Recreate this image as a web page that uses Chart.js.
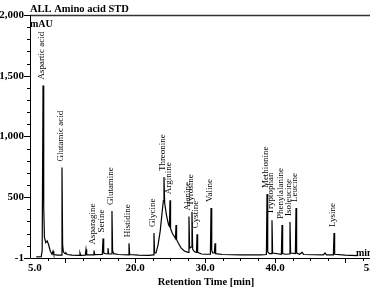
<!DOCTYPE html>
<html>
<head>
<meta charset="utf-8">
<script src="https://cdn.jsdelivr.net/npm/chart.js@4.4.0/dist/chart.umd.min.js"></script>
<style>
  html, body { margin: 0; padding: 0; background: #fff; }
</style>
</head>
<body>
<canvas id="chart" width="370" height="292"></canvas>
<script>
// Chromatogram trace, retention time [min] vs signal [mAU]
const retentionTimes = [
  5.9, 6.6, 6.74, 6.86, 6.96, 7.06, 7.25, 7.45, 7.65, 7.9, 8.15, 8.29, 8.4, 8.9,
  9.46, 9.57, 9.66, 9.76, 10.0, 10.14, 10.3, 11.0, 12.05, 12.14, 12.24, 12.9, 13.0, 13.1,
  14.04, 14.14, 14.24, 15.33, 15.43, 15.53, 15.9, 16.05, 16.14, 16.24, 16.62, 16.71, 16.8, 16.95,
  17.6, 19.05, 19.14, 19.24, 20.5, 22.0, 22.62, 22.71, 22.8, 23.0, 23.3, 23.6, 23.9, 24.05,
  24.14, 24.24, 24.5, 24.8, 24.92, 25.0, 25.08, 25.35, 25.78, 25.86, 25.94, 26.2, 26.6, 27.1,
  27.62, 27.71, 27.8, 28.05, 28.14, 28.24, 28.5, 28.78, 28.86, 28.95, 29.5, 30.0, 30.77, 30.86,
  30.96, 31.1, 31.34, 31.43, 31.52, 32.5, 35.0, 38.0, 38.77, 38.86, 38.96, 39.2, 39.48, 39.57,
  39.66, 40.91, 41.0, 41.09, 41.5, 42.05, 42.14, 42.23, 42.91, 43.0, 43.09, 43.5, 43.86, 44.1,
  46.9, 47.14, 47.35, 48.34, 48.43, 48.52, 50.0, 51.8
];
const signal = [
  8, 10, 60, 1420, 420, 170, 125, 140, 110, 55, 30, 55, 28, 22,
  22, 745, 110, 50, 35, 40, 28, 22, 20, 40, 20, 22, 70, 24,
  24, 60, 26, 28, 160, 40, 32, 34, 80, 32, 32, 385, 60, 35,
  28, 24, 120, 28, 22, 20, 24, 205, 40, 40, 110, 220, 390, 470,
  665, 450, 350, 270, 260, 475, 240, 200, 160, 270, 150, 120, 80, 55,
  45, 340, 80, 90, 380, 70, 50, 45, 195, 45, 32, 30, 30, 410,
  60, 40, 40, 120, 35, 28, 25, 25, 28, 525, 50, 35, 35, 310,
  40, 30, 270, 35, 30, 32, 295, 40, 35, 410, 40, 30, 45, 28,
  25, 40, 25, 25, 205, 30, 22, 18
];

// Named peaks (label text and apex retention time)
const peakNames = [
  "Aspartic acid", "Glutamic acid", "Asparagine", "Serine", "Glutamine", "Histidine",
  "Glycine", "Threonine", "Arginine", "Alanine", "Tyrosine", "Cystine", "Valine",
  "Methionine", "Tryptophan", "Phenylalanine", "Isoleucine", "Leucine", "Lysine"
];
const peakTimes = [
  6.86, 9.57, 14.14, 15.43, 16.71, 19.14,
  22.71, 24.14, 25.0, 27.71, 28.14, 28.86, 30.86,
  38.86, 39.57, 41.0, 42.14, 43.0, 48.43
];

// Axis tick labels
const yTickValues = [-1, 500, 1000, 1500, 2000];
const xTickLabels = [5, 20, 30, 40, 55];

const SERIF = "'Liberation Serif', 'Times New Roman', serif";

// draws the Chromeleon style frame, ticks, texts and peak names
const chromeleonFrame = {
  id: 'chromeleonFrame',
  afterDatasetsDraw(chart) {
    const { ctx, chartArea: a, scales: { x, y } } = chart;
    ctx.save();
    ctx.strokeStyle = '#000';
    ctx.fillStyle = '#000';

    // top border
    ctx.lineWidth = 1.5;
    ctx.strokeStyle = '#333';
    ctx.beginPath();
    ctx.moveTo(a.left, a.top + 0.5);
    ctx.lineTo(a.right, a.top + 0.5);
    ctx.stroke();

    // axes
    ctx.strokeStyle = '#000';
    ctx.lineWidth = 1;
    ctx.beginPath();
    ctx.moveTo(a.left + 0.5, a.top);
    ctx.lineTo(a.left + 0.5, a.bottom + 0.5);
    ctx.lineTo(a.right, a.bottom + 0.5);
    ctx.stroke();

    // y ticks: every 100 mAU, long ones at labels
    ctx.beginPath();
    for (let v = 100; v < 2000; v += 100) {
      if (v % 500 === 0) continue;
      const py = Math.round(y.getPixelForValue(v)) + 0.5;
      ctx.moveTo(a.left - 3, py);
      ctx.lineTo(a.left, py);
    }
    yTickValues.forEach(v => {
      const py = Math.round(y.getPixelForValue(v)) + 0.5;
      ctx.moveTo(a.left - 6, py);
      ctx.lineTo(a.left, py);
    });
    // x ticks: every 2.5 min
    for (let t = 7.5; t <= x.max; t += 2.5) {
      const px = Math.round(x.getPixelForValue(t)) + 0.5;
      const len = t % 10 === 0 ? 5 : 3;
      ctx.moveTo(px, a.bottom);
      ctx.lineTo(px, a.bottom + len);
    }
    ctx.stroke();

    // x tick labels
    ctx.font = `bold 11px ${SERIF}`;
    ctx.textBaseline = 'middle';
    xTickLabels.forEach((v, i) => {
      let px = x.getPixelForValue(v);
      if (i === 0) { ctx.textAlign = 'left'; px -= 2; }
      else if (i === xTickLabels.length - 1) { ctx.textAlign = 'right'; px += 3; }
      else ctx.textAlign = 'center';
      ctx.fillText(v.toFixed(1), px, a.bottom + 10);
    });

    // axis titles and units
    ctx.textAlign = 'center';
    ctx.font = `bold 10.5px ${SERIF}`;
    ctx.fillText('Retention Time [min]', 206, a.bottom + 24);
    ctx.textAlign = 'left';
    ctx.font = `bold 10px ${SERIF}`;
    ctx.fillText('mAU', a.left, 24);
    ctx.fillText('min', 356, a.bottom - 5);
    ctx.textBaseline = 'alphabetic';
    ctx.font = `bold 10.5px ${SERIF}`;
    ctx.fillText('ALL Amino acid STD', a.left, a.top - 3);

    // peak names, rotated, above each apex
    ctx.font = `9px ${SERIF}`;
    ctx.textAlign = 'left';
    ctx.textBaseline = 'middle';
    peakNames.forEach((name, i) => {
      const t = peakTimes[i];
      const h = signal[retentionTimes.indexOf(t)];
      const px = x.getPixelForValue(t) - 1;
      const py = y.getPixelForValue(h) - 6;
      ctx.save();
      ctx.translate(px, py);
      ctx.rotate(-Math.PI / 2);
      ctx.fillText(name, 0, 0);
      ctx.restore();
    });
    ctx.restore();
  }
};

new Chart(document.getElementById('chart').getContext('2d'), {
  type: 'line',
  data: {
    datasets: [{
      data: retentionTimes.map((t, i) => ({ x: t, y: signal[i] })),
      borderColor: '#000',
      borderWidth: 1.2,
      pointRadius: 0,
      tension: 0,
      fill: false
    }]
  },
  options: {
    responsive: false,
    animation: false,
    devicePixelRatio: 1,
    layout: { padding: { top: 15, left: 0, right: 0, bottom: 0 } },
    plugins: { legend: { display: false }, tooltip: { enabled: false } },
    scales: {
      x: {
        type: 'linear',
        min: 5,
        max: 53.57,
        grid: { display: false },
        border: { display: false },
        ticks: { display: false },
        afterFit: s => { s.height = 34; }
      },
      y: {
        min: -1,
        max: 2000,
        grid: { display: false, drawTicks: false },
        border: { display: false },
        afterBuildTicks: s => { s.ticks = yTickValues.map(v => ({ value: v })); },
        ticks: {
          padding: 6,
          color: '#000',
          font: { family: SERIF, size: 11, weight: 'bold' },
          callback: v => v.toLocaleString('en-US')
        },
        afterFit: s => { s.width = 30; }
      }
    }
  },
  plugins: [chromeleonFrame]
});
</script>
</body>
</html>
